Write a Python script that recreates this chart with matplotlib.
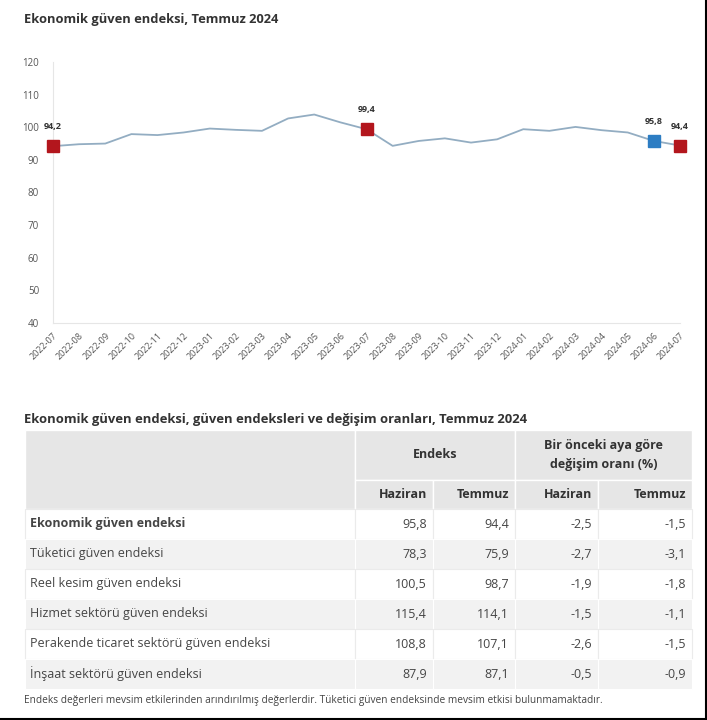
import matplotlib.pyplot as plt
from matplotlib.patches import Rectangle
from matplotlib.lines import Line2D

plt.rcParams["font.family"] = ["Open Sans", "DejaVu Sans"]

# Chart data
months = [
    "2022-07", "2022-08", "2022-09", "2022-10", "2022-11", "2022-12",
    "2023-01", "2023-02", "2023-03", "2023-04", "2023-05", "2023-06",
    "2023-07", "2023-08", "2023-09", "2023-10", "2023-11", "2023-12",
    "2024-01", "2024-02", "2024-03", "2024-04", "2024-05", "2024-06", "2024-07",
]
values = [
    94.2, 94.8, 95.0, 97.9, 97.6, 98.4,
    99.6, 99.2, 98.9, 102.7, 103.9, 101.5,
    99.4, 94.3, 95.8, 96.6, 95.3, 96.3,
    99.4, 98.9, 100.1, 99.1, 98.4, 95.8, 94.4,
]
red_points = ["2022-07", "2023-07", "2024-07"]
blue_points = ["2024-06"]
y_ticks = [40, 50, 60, 70, 80, 90, 100, 110, 120]

# Table data
table_rows = [
    "Ekonomik güven endeksi",
    "Tüketici güven endeksi",
    "Reel kesim güven endeksi",
    "Hizmet sektörü güven endeksi",
    "Perakende ticaret sektörü güven endeksi",
    "İnşaat sektörü güven endeksi",
]
index_june = ["95,8", "78,3", "100,5", "115,4", "108,8", "87,9"]
index_july = ["94,4", "75,9", "98,7", "114,1", "107,1", "87,1"]
change_june = ["-2,5", "-2,7", "-1,9", "-1,5", "-2,6", "-0,5"]
change_july = ["-1,5", "-3,1", "-1,8", "-1,1", "-1,5", "-0,9"]
sub_headers = ["Haziran", "Temmuz", "Haziran", "Temmuz"]

W, H = 707, 720
fig = plt.figure(figsize=(W / 100, H / 100), dpi=100)

# ---- line chart ----
ax = fig.add_axes([53 / W, 1 - 323 / H, (680 - 53) / W, (323 - 62) / H])
x = list(range(len(months)))
ax.plot(x, values, color="#93adc2", linewidth=1.3, zorder=2)
for i, m in enumerate(months):
    if m in red_points or m in blue_points:
        c = "#b3161d" if m in red_points else "#2d7dc3"
        ax.plot(i, values[i], marker="s", markersize=8, color=c, clip_on=False, zorder=3)
        ax.annotate(f"{values[i]:.1f}".replace(".", ","), (i, values[i]),
                    xytext=(0, 14), textcoords="offset points", ha="center", va="center",
                    fontsize=6.5, fontweight="bold", color="#333333", annotation_clip=False)
ax.set_xlim(0, len(months) - 1)
ax.set_ylim(40, 120)
ax.set_yticks(y_ticks)
ax.set_yticklabels([str(t) for t in y_ticks], fontsize=7, color="#555555")
ax.set_xticks(x)
ax.set_xticklabels(months, rotation=45, ha="right", va="top", rotation_mode="anchor",
                   fontsize=6.5, color="#555555")
ax.tick_params(axis="both", length=0)
ax.tick_params(axis="y", pad=10)
ax.tick_params(axis="x", pad=6)
for side in ["top", "right"]:
    ax.spines[side].set_visible(False)
for side in ["left", "bottom"]:
    ax.spines[side].set_color("#e6e6e6")
    ax.spines[side].set_linewidth(0.8)

fig.text(24 / W, 1 - 19 / H, "Ekonomik güven endeksi, Temmuz 2024", fontsize=9.3,
         fontweight="bold", color="#333333", va="center", ha="left")

# ---- table ----
tx = fig.add_axes([0, 0, 1, 1])
tx.set_xlim(0, W)
tx.set_ylim(H, 0)
tx.axis("off")

tx.text(24, 420, "Ekonomik güven endeksi, güven endeksleri ve değişim oranları, Temmuz 2024",
        fontsize=9.4, fontweight="bold", color="#333333", va="center", ha="left")

cols = [25, 355, 433, 515, 598, 692]
head_gray = "#e6e6e6"
stripe = "#f2f2f2"
text_col = "#454545"

# header row 1
tx.add_patch(Rectangle((cols[0], 430), cols[1] - cols[0], 79, facecolor=head_gray,
                       edgecolor="white", lw=1))
tx.add_patch(Rectangle((cols[1], 430), cols[3] - cols[1], 50, facecolor=head_gray,
                       edgecolor="white", lw=1))
tx.add_patch(Rectangle((cols[3], 430), cols[5] - cols[3], 50, facecolor=head_gray,
                       edgecolor="white", lw=1))
tx.text((cols[1] + cols[3]) / 2, 455, "Endeks", fontsize=9, fontweight="bold",
        color="#333333", ha="center", va="center")
tx.text((cols[3] + cols[5]) / 2, 455, "Bir önceki aya göre\ndeğişim oranı (%)", fontsize=9,
        fontweight="bold", color="#333333", ha="center", va="center", linespacing=1.55)
# header row 2
for j, lab in enumerate(sub_headers):
    tx.add_patch(Rectangle((cols[j + 1], 480), cols[j + 2] - cols[j + 1], 29,
                           facecolor=head_gray, edgecolor="white", lw=1))
    tx.text(cols[j + 2] - 6, 495, lab, fontsize=9, fontweight="bold", color="#333333",
            ha="right", va="center")

# body rows
row_h = 30
for r, name in enumerate(table_rows):
    y0 = 509 + r * row_h
    fill = "white" if r % 2 == 0 else stripe
    edge = "#ebebeb" if r % 2 == 0 else "white"
    cells = [name, index_june[r], index_july[r], change_june[r], change_july[r]]
    for j, val in enumerate(cells):
        tx.add_patch(Rectangle((cols[j], y0), cols[j + 1] - cols[j], row_h,
                               facecolor=fill, edgecolor=edge, lw=0.8))
        if j == 0:
            tx.text(cols[0] + 5, y0 + row_h / 2, val, fontsize=9, color=text_col,
                    ha="left", va="center", fontweight="bold" if r == 0 else "normal")
        else:
            tx.text(cols[j + 1] - 6, y0 + row_h / 2, val, fontsize=9, color=text_col,
                    ha="right", va="center")

tx.text(24, 700, "Endeks değerleri mevsim etkilerinden arındırılmış değerlerdir. "
        "Tüketici güven endeksinde mevsim etkisi bulunmamaktadır.",
        fontsize=7.3, color="#444444", ha="left", va="center")

# screenshot frame on right and bottom
tx.add_line(Line2D([705.5, 705.5], [0, 720], color="black", lw=1.5))
tx.add_line(Line2D([0, 707], [719, 719], color="black", lw=1.5))

fig.savefig("out.png", dpi=100)
